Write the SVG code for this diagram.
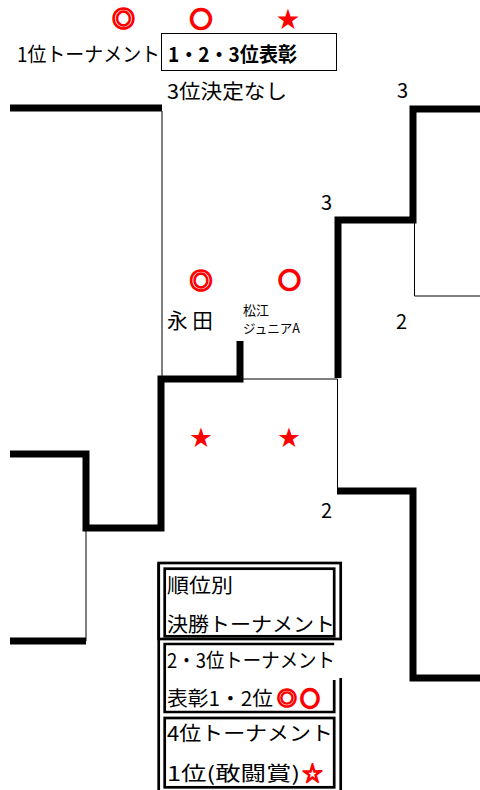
<svg xmlns="http://www.w3.org/2000/svg" width="480" height="790" viewBox="0 0 480 790">
<style>
.thick{fill:none;stroke:#000;stroke-width:7;stroke-linejoin:miter}
.thin{fill:none;stroke:#000;stroke-width:1}
.frame{fill:none;stroke:#000;stroke-width:2.7}
.t{font-family:"Noto Sans CJK JP","Liberation Sans",sans-serif;fill:#000}
.red{font-family:"Noto Sans CJK JP","Liberation Sans",sans-serif;fill:#f00;text-anchor:middle}
.o2{stroke:#f00;stroke-width:1.6}
.o1{stroke:#f00;stroke-width:2.6}
</style>
<rect width="480" height="790" fill="#fff"/>
<g id="connectors">
<line class="thick" x1="10" y1="108" x2="162" y2="108"/>
<line class="thin" x1="162" y1="111" x2="162" y2="376"/>
<polyline class="thick" points="10,454 86,454 86,528 161,528 161,379 240,379 240,341"/>
<line class="thin" x1="86" y1="531" x2="86" y2="641"/>
<line class="thick" x1="10" y1="641" x2="86" y2="641"/>
<polyline class="thick" points="480,109 413,109 413,220 338,220 338,378"/>
<polyline class="thin" points="414.5,223 414.5,296 480,296"/>
<polyline class="thin" points="243,379 337.5,379 337.5,488"/>
<polyline class="thick" points="337,491 413,491 413,678 480,678"/>
</g>
<g id="header">
<text class="red o2" x="123.5" y="27" font-size="23" font-weight="bold">◎</text>
<text class="red o1" x="201" y="26.5" font-size="22" font-weight="bold">○</text>
<text class="red" x="288" y="27" font-size="23">★</text>
<text class="t" x="17" y="62" font-size="20" textLength="143" lengthAdjust="spacingAndGlyphs">1位トーナメント</text>
<rect x="161.5" y="33.5" width="175" height="37" fill="none" stroke="#000" stroke-width="1"/>
<text class="t" x="168" y="62" font-size="20" font-weight="bold" textLength="129" lengthAdjust="spacingAndGlyphs">1・2・3位表彰</text>
<text class="t" x="167" y="99" font-size="20" textLength="120" lengthAdjust="spacingAndGlyphs">3位決定なし</text>
</g>
<g id="labels">
<text class="t" x="397" y="98" font-size="20">3</text>
<text class="t" x="321" y="210" font-size="20">3</text>
<text class="t" x="396" y="329" font-size="20">2</text>
<text class="t" x="321" y="518" font-size="20">2</text>
</g>
<g id="final">
<text class="red o2" x="201" y="288.5" font-size="23" font-weight="bold">◎</text>
<text class="red o1" x="289.5" y="288" font-size="22" font-weight="bold">○</text>
<text class="t" x="167" y="328" font-size="21" textLength="46" lengthAdjust="spacingAndGlyphs">永 田</text>
<text class="t" x="243" y="315" font-size="13">松江</text>
<text class="t" x="243" y="333" font-size="13" textLength="57" lengthAdjust="spacingAndGlyphs">ジュニアA</text>
<text class="red" x="201" y="445" font-size="22">★</text>
<text class="red" x="289" y="445" font-size="22">★</text>
</g>
<g id="legend">
<line class="frame" x1="158.7" y1="563" x2="158.7" y2="790"/>
<rect class="frame" x="158.7" y="563" width="182" height="76"/>
<line class="frame" x1="340.7" y1="678" x2="340.7" y2="790"/>
<rect class="frame" x="164.7" y="568.7" width="169.5" height="67.6"/>
<polyline class="frame" points="334.2,680 334.2,712 164.7,712 164.7,644 334.2,644"/>
<rect class="frame" x="164.7" y="718" width="169.5" height="69.3"/>
<text class="t" x="167" y="593" font-size="20" textLength="66" lengthAdjust="spacingAndGlyphs">順位別</text>
<text class="t" x="167" y="632" font-size="20" textLength="168" lengthAdjust="spacingAndGlyphs">決勝トーナメント</text>
<text class="t" x="167" y="668" font-size="20" textLength="168" lengthAdjust="spacingAndGlyphs">2・3位トーナメント</text>
<text class="t" x="167" y="706" font-size="20"><tspan textLength="106" lengthAdjust="spacingAndGlyphs">表彰1・2位</tspan><tspan x="287" class="o2" fill="#f00" text-anchor="middle" font-weight="bold">◎</tspan><tspan x="310" class="o1" font-size="19" fill="#f00" text-anchor="middle" font-weight="bold">○</tspan></text>
<text class="t" x="167" y="741" font-size="20" textLength="166" lengthAdjust="spacingAndGlyphs">4位トーナメント</text>
<text class="t" x="167" y="781" font-size="20"><tspan textLength="133" lengthAdjust="spacingAndGlyphs">1位(敢闘賞)</tspan><tspan x="312.5" fill="#f00" stroke="#f00" stroke-width="1.5" text-anchor="middle" font-weight="bold">☆</tspan></text>
</g>
</svg>
